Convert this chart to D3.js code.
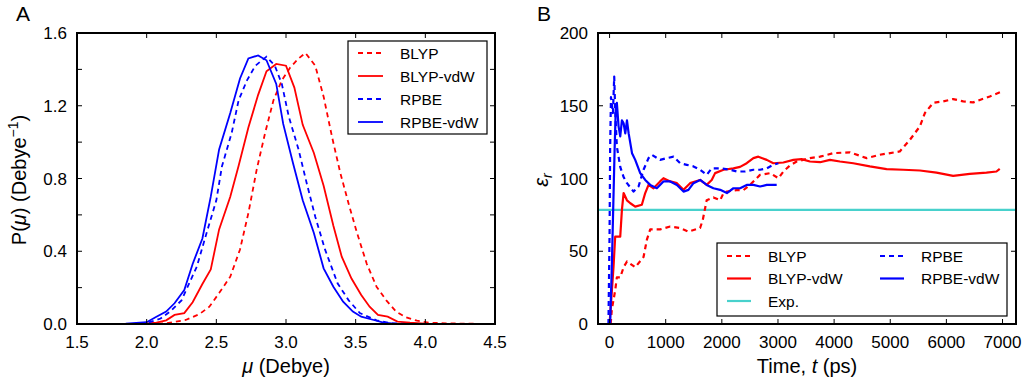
<!DOCTYPE html>
<html>
<head>
<meta charset="utf-8">
<script src="https://cdn.jsdelivr.net/npm/d3@7"></script>
<style>
  body { margin: 0; background: #fff; }
  svg { font-family: "Liberation Sans", Arial, sans-serif; }
</style>
</head>
<body>
<div id="chart"></div>
<script>
// ---- panel A: dipole distributions, [mu, P] ----
const blyp = [[1.5,0],[2.0,0],[2.14,0.004],[2.28,0.022],[2.38,0.055],[2.45,0.095],[2.52,0.17],[2.6,0.26],[2.67,0.41],
  [2.73,0.61],[2.79,0.85],[2.85,1.05],[2.91,1.23],[2.97,1.34],[3.03,1.41],[3.09,1.46],[3.14,1.49],[3.21,1.42],
  [3.27,1.25],[3.33,1.03],[3.39,0.83],[3.45,0.66],[3.51,0.50],[3.58,0.33],[3.65,0.205],[3.72,0.13],[3.79,0.068],
  [3.86,0.037],[3.94,0.018],[4.03,0.007],[4.18,0.003],[4.47,0]];
const blypVdw = [[1.5,0],[1.95,0],[2.07,0.007],[2.14,0.02],[2.2,0.05],[2.27,0.06],[2.33,0.12],[2.4,0.22],[2.46,0.30],
  [2.52,0.52],[2.6,0.70],[2.66,0.87],[2.73,1.08],[2.8,1.26],[2.86,1.39],[2.93,1.43],[3.0,1.42],[3.06,1.30],
  [3.12,1.095],[3.2,0.94],[3.27,0.76],[3.34,0.54],[3.4,0.37],[3.47,0.25],[3.54,0.16],[3.6,0.095],[3.66,0.05],
  [3.73,0.04],[3.8,0.013],[3.89,0.007],[4.0,0.002],[4.47,0]];
const rpbe = [[1.5,0],[1.9,0],[2.0,0.005],[2.1,0.03],[2.17,0.07],[2.25,0.13],[2.36,0.316],[2.43,0.5],[2.5,0.68],
  [2.54,0.866],[2.61,1.05],[2.66,1.23],[2.72,1.34],[2.78,1.42],[2.86,1.47],[2.92,1.42],[2.97,1.32],[3.02,1.14],
  [3.09,0.96],[3.15,0.77],[3.21,0.59],[3.28,0.41],[3.37,0.224],[3.45,0.13],[3.53,0.06],[3.65,0.02],[3.75,0.004],
  [3.9,0],[4.47,0]];
const rpbeVdw = [[1.52,0],[1.85,0.002],[2.0,0.01],[2.07,0.04],[2.14,0.068],[2.2,0.114],[2.27,0.187],[2.33,0.33],
  [2.4,0.47],[2.46,0.70],[2.52,0.96],[2.6,1.16],[2.67,1.35],[2.73,1.46],[2.8,1.477],[2.86,1.45],[2.93,1.32],
  [2.98,1.10],[3.05,0.885],[3.12,0.68],[3.2,0.50],[3.27,0.306],[3.34,0.205],[3.41,0.123],[3.48,0.068],[3.54,0.04],
  [3.63,0.022],[3.7,0.007],[3.8,0],[4.47,0]];

// ---- panel B: running dielectric constant, [t (ps), eps] ----
const epsBlyp = [[20,0],[40,10],[100,23],[130,32],[190,32],[250,39],[310,43],[457,39],[605,46],[665,58],[724,65],
  [900,65],[1080,67],[1257,66],[1405,63.5],[1613,66],[1660,71.5],[1730,85],[1850,87],[1970,85],[2030,90],[2090,91],
  [2265,92],[2385,92],[2500,95.6],[2680,102.5],[2860,103.7],[3007,100.2],[3100,105],[3215,109],[3333,111.7],
  [3570,114],[3750,115],[3985,117.4],[4280,118],[4580,114],[4815,116.3],[5170,118.6],[5350,126.6],[5528,135.8],
  [5617,145],[5765,152],[5943,153],[6120,154.6],[6300,153],[6477,152.3],[6595,154],[6773,156.4],[7000,160]];
const epsBlypVdw = [[0,0],[70,39],[100,60],[190,60],[220,78.4],[250,90],[310,85],[370,83],[457,80.7],[575,82],
  [635,90],[694,95.6],[783,93.3],[900,98],[960,100.2],[1080,98],[1200,96.8],[1317,92.2],[1435,96.8],[1613,99],
  [1730,95.6],[1820,99],[1880,103.7],[2030,106],[2206,107],[2325,108],[2443,110.5],[2562,114],[2650,115],
  [2800,112.8],[2918,110.5],[3096,111],[3274,112.8],[3420,113.3],[3570,111.7],[3750,111.2],[3926,112.8],
  [4104,111.7],[4341,110.5],[4637,108.3],[4935,106.4],[5231,106],[5528,105.5],[5824,104],[6120,101.8],
  [6417,103.2],[6714,104],[6892,104.8],[6950,106.6]];
const epsRpbe = [[-20,0],[0,62],[10,120],[25,156],[60,145],[83,170],[100,147],[130,122],[190,108],[250,101],
  [310,96.8],[427,91],[516,94.5],[605,106],[694,114],[753,116.3],[900,112.8],[1020,114],[1140,115],[1257,110.5],
  [1376,109.4],[1495,108.3],[1613,106],[1730,102.5],[1820,107],[1970,107],[2147,106],[2265,104.8],[2414,104.8],
  [2562,106],[2680,106],[2800,107],[2918,109.4],[3007,110.5]];
const epsRpbeVdw = [[10,0],[40,39],[70,87.6],[90,120],[110,147],[130,152],[160,136],[190,129],[220,140],[250,138],
  [280,131],[310,140],[340,131],[400,117.4],[457,112.8],[546,103.7],[635,99],[724,95.6],[842,93.3],[960,98],
  [1080,98],[1200,95.6],[1317,91],[1405,92.2],[1495,96.8],[1613,99],[1730,95.6],[1850,93.3],[1970,92.2],
  [2090,90],[2206,93.3],[2325,93.3],[2443,95.6],[2562,95.6],[2680,94.5],[2800,95.6],[2977,95.6]];
const expEps = 78.4;

const muTicks = [1.5, 2.0, 2.5, 3.0, 3.5, 4.0, 4.5];
const pTicks = [0, 0.2, 0.4, 0.6, 0.8, 1.0, 1.2, 1.4, 1.6];
const pLabels = [0, 0.4, 0.8, 1.2, 1.6];
const tTicks = [0, 1000, 2000, 3000, 4000, 5000, 6000, 7000];
const epsTicks = [0, 50, 100, 150, 200];

const W = 1027, H = 390;
const svg = d3.select("#chart").append("svg").attr("width", W).attr("height", H);

const RED = "#ff0000", BLUE = "#0000ff", CYAN = "#48d1cc";
const TICK_FS = 17, TITLE_FS = 20, LEG_FS = 15.5;

function frame(g, x, y, xt, yt, yl, xfmt, yfmt) {
	const [x0, x1] = x.range(), [y0, y1] = y.range();
	const tl = 5;
	// ticks, inward on all four sides
	xt.forEach(v => {
		g.append("line").attr("x1", x(v)).attr("x2", x(v)).attr("y1", y0).attr("y2", y0 - tl).attr("stroke", "#000");
		g.append("line").attr("x1", x(v)).attr("x2", x(v)).attr("y1", y1).attr("y2", y1 + tl).attr("stroke", "#000");
		g.append("text").attr("x", x(v)).attr("y", y0 + 24).attr("text-anchor", "middle")
			.attr("font-size", TICK_FS).text(xfmt(v));
	});
	yt.forEach(v => {
		g.append("line").attr("x1", x0).attr("x2", x0 + tl).attr("y1", y(v)).attr("y2", y(v)).attr("stroke", "#000");
		g.append("line").attr("x1", x1).attr("x2", x1 - tl).attr("y1", y(v)).attr("y2", y(v)).attr("stroke", "#000");
	});
	yl.forEach(v => {
		g.append("text").attr("x", x0 - 10).attr("y", y(v) + 6).attr("text-anchor", "end")
			.attr("font-size", TICK_FS).text(yfmt(v));
	});
}

function border(g, x, y) {
	const [x0, x1] = x.range(), [y0, y1] = y.range();
	g.append("rect").attr("x", x0).attr("y", y1).attr("width", x1 - x0).attr("height", y0 - y1)
		.attr("fill", "none").attr("stroke", "#000").attr("stroke-width", 2);
}

// ================= panel A =================
const xA = d3.scaleLinear().domain([1.5, 4.5]).range([77, 495]);
const yA = d3.scaleLinear().domain([0, 1.6]).range([324, 33]);
const gA = svg.append("g");
const lineA = d3.line().x(d => xA(d[0])).y(d => yA(d[1]));

const seriesA = [
	{name: "BLYP", data: blyp, color: RED, dash: "5,4"},
	{name: "BLYP-vdW", data: blypVdw, color: RED, dash: null},
	{name: "RPBE", data: rpbe, color: BLUE, dash: "5,4"},
	{name: "RPBE-vdW", data: rpbeVdw, color: BLUE, dash: null}
];
seriesA.forEach(s => {
	gA.append("path").datum(s.data).attr("d", lineA).attr("fill", "none")
		.attr("stroke", s.color).attr("stroke-width", 1.8).attr("stroke-dasharray", s.dash);
});
frame(gA, xA, yA, muTicks, pTicks, pLabels, d3.format(".1f"), d3.format(".1f"));
border(gA, xA, yA);

// legend A
gA.append("rect").attr("x", 348).attr("y", 41).attr("width", 139).attr("height", 93)
	.attr("fill", "#fff").attr("stroke", "#000").attr("stroke-width", 1.2);
seriesA.forEach((s, i) => {
	const yy = 53 + i * 23;
	gA.append("line").attr("x1", 358).attr("x2", 383).attr("y1", yy).attr("y2", yy)
		.attr("stroke", s.color).attr("stroke-width", 1.8).attr("stroke-dasharray", s.dash);
	gA.append("text").attr("x", 400).attr("y", yy + 5.5).attr("font-size", LEG_FS).text(s.name);
});

// labels A
gA.append("text").attr("x", 16).attr("y", 21).attr("font-size", 21).text("A");
const ylabA = gA.append("text").attr("transform", "translate(26,180) rotate(-90)")
	.attr("text-anchor", "middle").attr("font-size", TITLE_FS);
ylabA.append("tspan").text("P(");
ylabA.append("tspan").attr("font-style", "italic").text("μ");
ylabA.append("tspan").text(") (Debye");
ylabA.append("tspan").attr("font-size", 14).attr("dy", -8).text("−1");
ylabA.append("tspan").attr("dy", 8).text(")");
const xlabA = gA.append("text").attr("x", 286).attr("y", 373).attr("text-anchor", "middle").attr("font-size", TITLE_FS);
xlabA.append("tspan").attr("font-style", "italic").text("μ");
xlabA.append("tspan").text(" (Debye)");

// ================= panel B =================
const xB = d3.scaleLinear().domain([-206, 7240]).range([598, 1016]);
const yB = d3.scaleLinear().domain([0, 200]).range([324, 33]);
const gB = svg.append("g");
const lineB = d3.line().x(d => xB(d[0])).y(d => yB(d[1]));

gB.append("defs").append("clipPath").attr("id", "clipB").append("rect")
	.attr("x", 598).attr("y", 33).attr("width", 418).attr("height", 291);

const seriesB = [
	{name: "BLYP", data: epsBlyp, color: RED, dash: "5,4"},
	{name: "BLYP-vdW", data: epsBlypVdw, color: RED, dash: null},
	{name: "RPBE", data: epsRpbe, color: BLUE, dash: "5,4"},
	{name: "RPBE-vdW", data: epsRpbeVdw, color: BLUE, dash: null}
];
const plotB = gB.append("g").attr("clip-path", "url(#clipB)");
plotB.append("line").attr("x1", 598).attr("x2", 1016).attr("y1", yB(expEps)).attr("y2", yB(expEps))
	.attr("stroke", CYAN).attr("stroke-width", 2.2);
seriesB.forEach(s => {
	plotB.append("path").datum(s.data).attr("d", lineB).attr("fill", "none")
		.attr("stroke", s.color).attr("stroke-width", 2.2).attr("stroke-dasharray", s.dash)
		.attr("stroke-linejoin", "round");
});
frame(gB, xB, yB, tTicks, epsTicks, epsTicks, d3.format("d"), d3.format("d"));
border(gB, xB, yB);

// legend B
gB.append("rect").attr("x", 717).attr("y", 243).attr("width", 290).attr("height", 73)
	.attr("fill", "#fff").attr("stroke", "#000").attr("stroke-width", 1.2);
const legB = [
	{name: "BLYP", color: RED, dash: "5,4", col: 0, row: 0},
	{name: "BLYP-vdW", color: RED, dash: null, col: 0, row: 1},
	{name: "Exp.", color: CYAN, dash: null, col: 0, row: 2},
	{name: "RPBE", color: BLUE, dash: "5,4", col: 1, row: 0},
	{name: "RPBE-vdW", color: BLUE, dash: null, col: 1, row: 1}
];
legB.forEach(s => {
	const lx = s.col ? 880 : 727, yy = 256 + s.row * 22.5;
	gB.append("line").attr("x1", lx).attr("x2", lx + 24).attr("y1", yy).attr("y2", yy)
		.attr("stroke", s.color).attr("stroke-width", 2.2).attr("stroke-dasharray", s.dash);
	gB.append("text").attr("x", lx + 41).attr("y", yy + 5.5).attr("font-size", LEG_FS).text(s.name);
});

// labels B
gB.append("text").attr("x", 537).attr("y", 21).attr("font-size", 21).text("B");
const ylabB = gB.append("text").attr("transform", "translate(548,180) rotate(-90)")
	.attr("text-anchor", "middle").attr("font-size", TITLE_FS);
ylabB.append("tspan").attr("font-style", "italic").text("ε");
ylabB.append("tspan").attr("font-style", "italic").attr("font-size", 14).attr("dy", 4).text("r");
const xlabB = gB.append("text").attr("x", 807).attr("y", 373).attr("text-anchor", "middle").attr("font-size", TITLE_FS);
xlabB.append("tspan").text("Time, ");
xlabB.append("tspan").attr("font-style", "italic").text("t");
xlabB.append("tspan").text(" (ps)");
</script>
</body>
</html>
